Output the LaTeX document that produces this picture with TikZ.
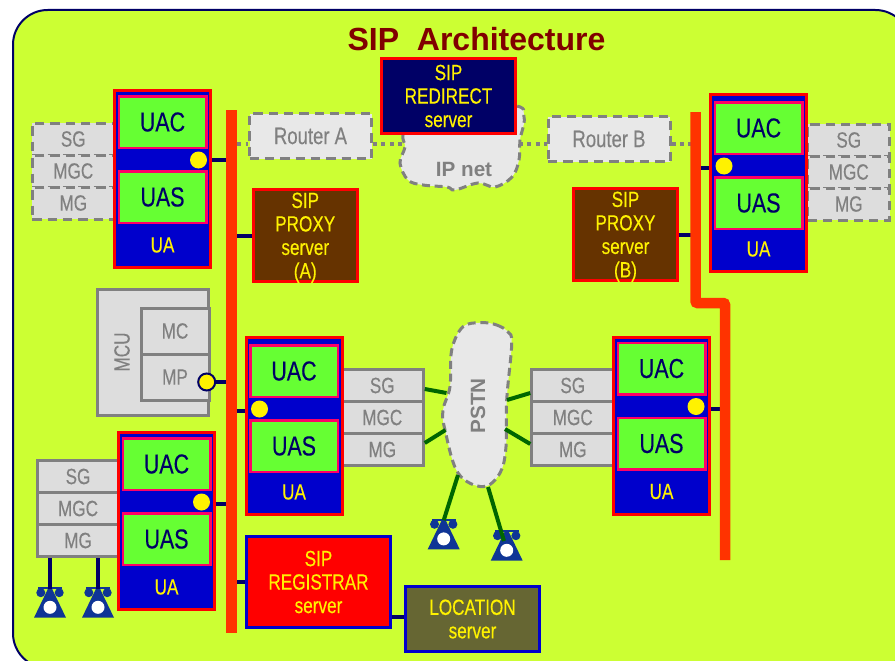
\documentclass[tikz,border=0pt]{standalone}
\usepackage{fontspec}
\setmainfont{Liberation Sans}
\newfontfamily\narrowfont[FakeStretch=0.78,FakeBold=0.3]{Liberation Sans}
\usepackage{tikz}
\usetikzlibrary{calc}

\definecolor{lime}{HTML}{CCFF33}
\definecolor{navy}{HTML}{000066}
\definecolor{uablue}{HTML}{0000CC}
\definecolor{uagreen}{HTML}{66FF33}
\definecolor{uapink}{HTML}{FF0066}
\definecolor{busred}{HTML}{FF3300}
\definecolor{proxybrown}{HTML}{663300}
\definecolor{locolive}{HTML}{666633}
\definecolor{boxgray}{HTML}{DDDDDD}
\definecolor{cloudgray}{HTML}{E8E8E8}
\definecolor{edgegray}{HTML}{808080}
\definecolor{linegreen}{HTML}{006600}
\definecolor{phoneblue}{HTML}{0F3596}
\definecolor{titlered}{HTML}{800000}

\def\px{.75pt}
\def\bodyfont{\narrowfont\fontsize{16.5}{17.6}\selectfont}

\tikzset{
  serverbox/.style={draw=red, line width=3*\px, text=yellow, align=center, inner sep=0pt, font=\bodyfont},
  proxybox/.style={serverbox, fill=proxybrown, minimum width=103.5*\px, minimum height=92*\px, text depth=0pt},
  uaframe/.style={draw=red, fill=uablue, line width=3*\px, minimum width=96*\px, minimum height=177*\px},
  uapart/.style={draw=uapink, fill=uagreen, line width=2.5*\px, minimum width=87.5*\px, minimum height=51.5*\px,
    inner sep=0pt, text=navy, font=\narrowfont\fontsize{20.6}{22}\selectfont},
  uadot/.style={circle, fill=yellow, minimum size=17*\px, inner sep=0pt},
  gatebox/.style={fill=boxgray, line width=3*\px, minimum width=82*\px, minimum height=32*\px, inner sep=0pt,
    text=edgegray, font=\bodyfont},
  solidgate/.style={gatebox, draw=edgegray},
  dashgate/.style={gatebox, draw=edgegray, dash pattern=on 7pt off 4.5pt},
  router/.style={fill=cloudgray, draw=edgegray, line width=3*\px, dash pattern=on 7pt off 4.5pt,
    minimum width=122*\px, minimum height=45*\px, inner sep=0pt, text=edgegray,
    font=\narrowfont\fontsize{17.8}{19}\selectfont},
  cloudline/.style={fill=cloudgray, draw=edgegray, line width=3*\px, dash pattern=on 6pt off 3.5pt},
  cloudtext/.style={text=edgegray, inner sep=0pt, font=\bfseries\fontsize{15.5}{17}\selectfont},
  link/.style={navy, line width=4*\px},
  dotlink/.style={edgegray, line width=4*\px, dash pattern=on 3pt off 3.3pt},
  pstnlink/.style={linegreen, line width=4*\px}
}

\begin{document}
\begin{tikzpicture}[x=.75pt, y=-.75pt]
  % The page, in pixels of the picture
  \clip (0,0) rectangle (895,660);

  % One user agent: name, left, top, x of the dot, y of UAC
  \def\useragent#1#2#3#4#5{
    \node[uaframe] (#1) at (#2+49.5, #3+90) {};
    \node[uapart] (#1c) at (#2+49.5, #5) {UAC};
    \node[uapart] (#1s) at (#2+49.5, #5+75) {UAS};
    \node[text=yellow, inner sep=0pt, font=\bodyfont] (#1l) at (#2+49.5, #3+156) {UA};
    \node[uadot] (#1d) at (#4, #5+38) {};
    \coordinate (#1p) at (#4, #5+40);
  }

  % Three gateway boxes: name, centre x, top, style
  \def\gatestack#1#2#3#4{
    \node[#4] (#1sg) at (#2, #3+16) {SG};
    \node[#4] (#1mgc) at (#2, #3+48) {MGC};
    \node[#4] (#1mg) at (#2, #3+80) {MG};
  }

  % A telephone: name, centre x, y of the base
  \def\telephone#1#2#3{
    \coordinate (#1) at (#2, #3-29);
    \fill[phoneblue] (#2-16, #3) -- (#2-2, #3-29) -- (#2+2, #3-29) -- (#2+16, #3) -- cycle;
    \fill[phoneblue] (#2-12, #3-30.5) rectangle (#2+12, #3-28.5);
    \fill[phoneblue] (#2-9.2, #3-25) circle (4.5*\px);
    \fill[phoneblue] (#2+9.2, #3-25) circle (4.5*\px);
    \fill[white] (#2, #3-10.4) circle (6.5*\px);
  }

  % Background and title
  \draw[navy, fill=lime, line width=2*\px, rounded corners=26pt] (13,10) rectangle (910,668);
  \node[text=titlered, inner sep=0pt, font=\bfseries\fontsize{24}{26}\selectfont] (title) at (476.5,39) {SIP\ \ Architecture};

  % Gateway boxes sit behind the user agents
  \gatestack{gwA}{73.25}{123}{dashgate}
  \gatestack{gwB}{848.75}{124}{dashgate}
  \gatestack{gwC}{382.25}{369.5}{solidgate}
  \gatestack{gwD}{572.75}{369.5}{solidgate}
  \gatestack{gwE}{78}{460.5}{solidgate}

  % User agents
  \useragent{uaA}{113}{89}{198.5}{122}
  \useragent{uaB}{709}{93}{724}{128}
  \useragent{uaC}{244.5}{336}{259.5}{371}
  \useragent{uaD}{612}{335.5}{696}{368.5}
  \useragent{uaE}{117}{431}{201.5}{464}

  % The left bus, and the corners of the right one
  \node[fill=busred, minimum width=11*\px, minimum height=523*\px, inner sep=0pt] (busL) at (231.5,371.5) {};
  \coordinate (busRa) at (695.5,112);
  \coordinate (busRb) at (695.5,303);
  \coordinate (busRc) at (725,303);
  \coordinate (busRd) at (725,560);

  % IP cloud, mostly behind the redirect server
  \draw[cloudline] plot[smooth cycle, tension=.6] coordinates {(410,105) (403,135) (405,147) (400,163) (408,180) (423,185)
    (447,187) (455,190) (478,183) (495,187) (512,177) (519,160) (520,140) (524,117) (510,105)};
  \node[cloudtext] (ipnet) at (464,169) {IP net};

  % PSTN cloud
  \draw[cloudline] plot[smooth cycle, tension=.6] coordinates {(481.7,322.7) (496.7,325) (508,332) (511.7,344) (506.7,400) (506,446.7)
    (500,473) (483,486.7) (458,473) (445,430) (443,410) (450,386.7) (451.7,350) (463,326.7)};
  \node[cloudtext, rotate=90] (pstn) at (478,406) {PSTN};

  % Servers
  \node[serverbox, fill=navy, minimum width=134*\px, minimum height=75*\px] (redirect) at (448.5,96) {SIP\\REDIRECT\\server};
  \node[proxybox] (proxyA) at (305.25,235.5) {SIP\\PROXY\\server\\(A)};
  \node[proxybox] (proxyB) at (625.5,234.5) {SIP\\PROXY\\server\\(B)};
  \node[serverbox, draw=uablue, fill=red, minimum width=144*\px, minimum height=91*\px] (registrar) at (318.5,582) {SIP\\REGISTRAR\\server};
  \node[serverbox, draw=uablue, fill=locolive, minimum width=134*\px, minimum height=65*\px] (location) at (472.5,619) {LOCATION\\server};

  % Routers
  \node[router] (routerA) at (310.5,136) {Router A};
  \node[router] (routerB) at (609,139) {Router B};

  % MCU
  \node[solidgate, minimum width=111*\px, minimum height=126*\px] (mcu) at (153,352.5) {};
  \node[solidgate, minimum width=68*\px, minimum height=46*\px] (mc) at (175,331) {MC};
  \node[solidgate, minimum width=68*\px, minimum height=46*\px] (mp) at (175,377) {MP};
  \node[text=edgegray, inner sep=0pt, rotate=90, font=\bodyfont] (mculabel) at (122,352) {MCU};
  \node[uadot, draw=navy, line width=2*\px] (mpdot) at (206.7,382) {};

  % Signalling links to the buses
  \draw[link] (uaA.east |- uaAd) -- (uaAd -| busL.west);
  \draw[link] (uaB.west |- uaBp) -- (uaBp -| busRa);
  \draw[link] (uaC.west |- uaCp) -- (uaCp -| busL.east);
  \draw[link] (uaD.east |- uaDp) -- (uaDp -| busRd);
  \draw[link] (uaE.east |- uaEp) -- (uaEp -| busL.west);
  \draw[link] (mpdot.east) -- (mpdot -| busL.west);
  \draw[link] (proxyA.west) -- (proxyA -| busL.east);
  \draw[link] (proxyB.east) -- (proxyB -| busRa);
  \draw[link] (busL.east |- registrar) -- (registrar.west);
  \draw[link] (registrar.east |- 0,617) -- (location.west |- 0,617);

  % Dotted IP links
  \coordinate (ipL) at (403,144);
  \coordinate (ipR) at (519,144);
  \draw[dotlink] (busL.east |- ipL) -- (routerA.west |- ipL);
  \draw[dotlink] (routerA.east |- ipL) -- (ipL);
  \draw[dotlink] (ipR) -- (routerB.west |- ipR);
  \draw[dotlink] (routerB.east |- ipR) -- (busRa |- ipR);

  % The right bus goes over its links
  \draw[busred, line width=10.5*\px, rounded corners=1.5pt] (busRa) -- (busRb) -- (busRc) -- (busRd);

  % Telephones
  \telephone{phoneA}{50}{617.7}
  \telephone{phoneB}{98}{617.7}
  \telephone{phoneC}{443.7}{549.3}
  \telephone{phoneD}{506.7}{560.7}
  \draw[link] (phoneA |- gwEmg.south) -- (phoneA);
  \draw[link] (phoneB |- gwEmg.south) -- (phoneB);

  % Green lines around the PSTN cloud
  \coordinate (pstnA) at (446.5,393);
  \coordinate (pstnB) at (445.5,430);
  \coordinate (pstnC) at (507,400);
  \coordinate (pstnD) at (505,429);
  \coordinate (pstnE) at (458,475);
  \coordinate (pstnF) at (488,487);
  \coordinate (tipD) at (504,541);
  \draw[pstnlink] (gwCsg.east |- 0,389) -- (pstnA);
  \draw[pstnlink] (gwCmg.east |- 0,443) -- (pstnB);
  \draw[pstnlink] (gwDsg.west |- 0,393) -- (pstnC);
  \draw[pstnlink] (gwDmg.west |- 0,444) -- (pstnD);
  \draw[pstnlink] (pstnE) -- (phoneC);
  \draw[pstnlink] (pstnF) -- (tipD);
\end{tikzpicture}
\end{document}
